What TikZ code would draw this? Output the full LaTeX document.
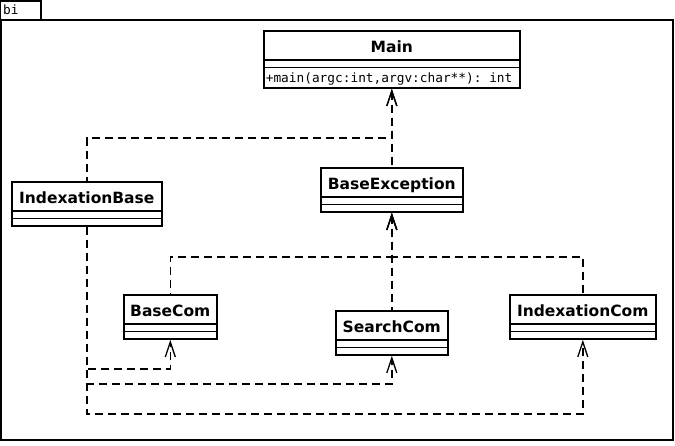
\documentclass[tikz,border=0pt]{standalone}
\usepackage{fontspec}
\setmainfont{DejaVu Sans}
\setmonofont{DejaVu Sans Mono}
\usetikzlibrary{shapes.multipart,arrows.meta}
\newcommand\cname[1]{\rule[-7pt]{0pt}{27.5pt}\textbf{#1}}
\tikzset{
  classbox/.style={rectangle split, rectangle split parts=3, draw, line width=1.6pt,
    inner xsep=2pt, inner ysep=0pt, anchor=north west,
    rectangle split empty part height=6pt, rectangle split empty part depth=0pt,
    font=\fontsize{15.5}{18}\selectfont},
  depline/.style={line width=1.6pt, dash pattern=on 8pt off 5pt},
  depin/.style={depline, {Straight Barb[length=15pt,width=10pt,line width=1.3pt]}-},
  depout/.style={depline, -{Straight Barb[length=15pt,width=10pt,line width=1.3pt]}},
}
\begin{document}
\begin{tikzpicture}[x=1pt, y=-1pt]
    \useasboundingbox (0, 0) rectangle (675, 446);
    % frame
    \draw[line width=1.4pt](0.7, 1) rectangle (41, 20);
    \draw[line width=1.8pt](1, 20) rectangle (673, 440);
    \node[anchor=base west, inner sep=0, font=\ttfamily\fontsize{12.8}{14}\selectfont] (tab) at(3, 15){bi};

    \node[classbox, minimum width=256pt, rectangle split part align={center,center,left}] (main) at(263, 30)
      {\cname{Main} \nodepart{three}\ttfamily\fontsize{12.8}{14}\selectfont\rule[-5pt]{0pt}{19pt}+main(argc:int,argv:char**): int};
    \node[classbox, minimum width=142pt] (baseexc) at(320, 167){\cname{BaseException}};
    \node[classbox, minimum width=150pt] (idxbase) at(11, 181){\cname{IndexationBase}};
    \node[classbox, minimum width=93pt] (basecom) at(123, 294){\cname{BaseCom}};
    \node[classbox, minimum width=112pt] (searchcom) at(335, 310){\cname{SearchCom}};
    \node[classbox, minimum width=146pt] (idxcom) at(509, 294){\cname{IndexationCom}};

    % dependencies
    \draw[depin](main.south) -- (baseexc.north);
    \draw[depin](main.south) -- ++(0, 49) -| (idxbase.north);
    \draw[depin](baseexc.south) -- (searchcom.north);
    \draw[depin](baseexc.south) -- ++(0, 44) -| (basecom.north);
    \draw[depin](baseexc.south) -- ++(0, 44) -| (idxcom.north);
    \draw[depout](idxbase.south) -- ++(0, 142) -| (basecom.south);
    \draw[depout](idxbase.south) -- ++(0, 157) -| (searchcom.south);
    \draw[depout](idxbase.south) -- ++(0, 187) -| (idxcom.south);
  \end{tikzpicture}
\end{document}
